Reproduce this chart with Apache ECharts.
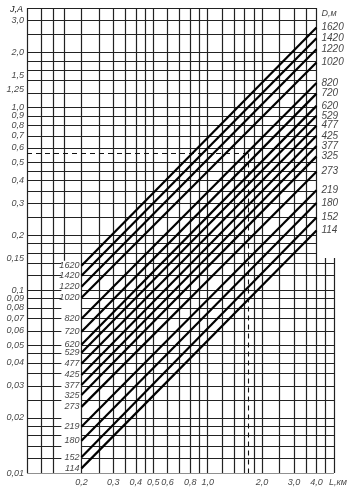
<!DOCTYPE html>
<html>
<head>
<meta charset="utf-8">
<script src="https://cdn.jsdelivr.net/npm/echarts@6/dist/echarts.min.js"></script>
<style>
html,body{margin:0;padding:0;background:#fff;}
#chart{width:347px;height:496px;}
</style>
</head>
<body>
<div id="chart"></div>
<script>
// ---- data ----
const diameters = ['1620','1420','1220','1020','820','720','620','529','477','425','377','325','273','219','180','152','114'];
// J (A) where each line starts (L = 0.2 km) and ends (L = 4.0 km)
const lineStartL = 0.2;
const lineEndL = 4.0;
const startJ = [0.136,0.120,0.1045,0.091,0.0698,0.0593,0.0503,0.0455,0.0396,0.0344,0.0303,0.0267,0.0230,0.0179,0.0150,0.0122,0.0106];
const endJ   = [2.74,2.39,2.08,1.76,1.36,1.19,1.02,0.90,0.795,0.70,0.615,0.54,0.445,0.352,0.300,0.250,0.212];

// axis ranges
const xMin = 0.1, xMax = 5.0, xUpperMax = 4.0;
const yMin = 0.01, yMax = 3.5, yLowerTop = 0.15;
// blank box behind the left D labels
const labelBoxL = 0.155, labelBoxTop = 0.145;

// tick labels
const yTickValues = [3.0,2.0,1.5,1.25,1.0,0.9,0.8,0.7,0.6,0.5,0.4,0.3,0.2,0.15,0.1,0.09,0.08,0.07,0.06,0.05,0.04,0.03,0.02,0.01];
const yTickLabels = ['3,0','2,0','1,5','1,25','1,0','0,9','0,8','0,7','0,6','0,5','0,4','0,3','0,2','0,15','0,1','0,09','0,08','0,07','0,06','0,05','0,04','0,03','0,02','0,01'];
const xTickValues = [0.2,0.3,0.4,0.5,0.6,0.8,1.0,2.0,3.0,4.0];
const xTickLabels = ['0,2','0,3','0,4','0,5','0,6','0,8','1,0','2,0','3,0','4,0'];

// grid lines
const hGridUpper = [3.5,3.0,2.5,2.0,1.8,1.6,1.4,1.2,1.0,0.9,0.8,0.7,0.6,0.5,0.45,0.4,0.35,0.3,0.25,0.2,0.18,0.16];
const hGridLower = [0.14,0.12,0.1,0.09,0.08,0.07,0.06,0.05,0.045,0.04,0.035,0.03,0.025,0.02,0.018,0.016,0.014,0.012];
const vGridFull  = [0.1,0.12,0.14,0.2,0.25,0.3,0.35,0.4,0.45,0.5,0.6,0.7,0.8,0.9,1.0,1.2,1.4,1.6,1.8,2.0,2.5,3.0,3.5,4.0];
const vGridAboveLabels = [0.16];
const vGridLower = [4.5,5.0];

// worked example (dashed)
const exampleL = 1.67;
const exampleJ = 0.56;

const FONT = "'Liberation Sans Narrow','Liberation Sans',sans-serif";

const gridSegs = [];
hGridUpper.forEach(v => gridSegs.push({coords: [[xMin, v], [xUpperMax, v]]}));
hGridLower.forEach(v => {
  gridSegs.push({coords: [[xMin, v], [labelBoxL, v]]});
  gridSegs.push({coords: [[lineStartL, v], [xMax, v]]});
});
gridSegs.push({coords: [[xMin, yMin], [xMax, yMin]]});
vGridFull.forEach(v => gridSegs.push({coords: [[v, yMin], [v, yMax]]}));
vGridAboveLabels.forEach(v => gridSegs.push({coords: [[v, labelBoxTop], [v, yMax]]}));
vGridLower.forEach(v => gridSegs.push({coords: [[v, yMin], [v, yLowerTop]]}));

const dLines = diameters.map((d, i) => ({coords: [[lineStartL, startJ[i]], [lineEndL, endJ[i]]]}));

const labelStyle = {fontFamily: FONT, fontStyle: 'italic', fontSize: 9, color: '#111'};

const chart = echarts.init(document.getElementById('chart'), null, {renderer: 'canvas'});
chart.setOption({
  backgroundColor: '#fff',
  animation: false,
  title: {text: 'J,A', left: 5, top: 0, textStyle: Object.assign({}, labelStyle, {fontWeight: 'normal'})},
  grid: {left: 27, right: 13, top: 8, bottom: 23, containLabel: false},
  xAxis: {type: 'log', min: xMin, max: xMax, show: false},
  yAxis: {type: 'log', min: yMin, max: yMax, show: false},
  series: [
    {
      type: 'lines', coordinateSystem: 'cartesian2d', silent: true,
      lineStyle: {color: '#222', width: 1.2, opacity: 1, curveness: 0},
      data: gridSegs
    },
    {
      type: 'lines', coordinateSystem: 'cartesian2d', silent: true,
      lineStyle: {color: '#111', width: 1.1, opacity: 1, type: [5, 4]},
      data: [
        {coords: [[xMin, exampleJ], [exampleL, exampleJ]]},
        {coords: [[exampleL, exampleJ], [exampleL, yMin]]}
      ]
    },
    {
      type: 'lines', coordinateSystem: 'cartesian2d', silent: true,
      lineStyle: {color: '#000', width: 2.2, opacity: 1, curveness: 0},
      data: dLines
    },
    // y tick labels
    {
      type: 'scatter', symbolSize: 0, silent: true,
      data: yTickValues.map((v, i) => [xMin, v, yTickLabels[i]]),
      label: Object.assign({show: true, position: 'left', distance: 3, formatter: p => p.value[2]}, labelStyle)
    },
    // x tick labels
    {
      type: 'scatter', symbolSize: 0, silent: true,
      data: xTickValues.map((v, i) => [v, yMin, xTickLabels[i]]),
      label: Object.assign({show: true, position: 'bottom', distance: 5, formatter: p => p.value[2]}, labelStyle)
    },
    // x axis name
    {
      type: 'scatter', symbolSize: 0, silent: true,
      data: [[xMax, yMin, 'L,км']],
      label: Object.assign({show: true, position: 'bottom', distance: 5, offset: [4, 0], formatter: p => p.value[2]}, labelStyle)
    },
    // D labels at left ends
    {
      type: 'scatter', symbolSize: 0, silent: true,
      data: diameters.map((d, i) => [lineStartL, startJ[i], d]),
      label: Object.assign({show: true, position: 'left', distance: 2, formatter: p => p.value[2]}, labelStyle)
    },
    // D labels at right ends
    {
      type: 'scatter', symbolSize: 0, silent: true,
      data: diameters.map((d, i) => [lineEndL, endJ[i], d]),
      label: Object.assign({show: true, position: 'right', distance: 5, formatter: p => p.value[2]}, labelStyle, {fontSize: 10})
    },
    // D axis name
    {
      type: 'scatter', symbolSize: 0, silent: true,
      data: [[lineEndL, yMax, 'D,м']],
      label: Object.assign({show: true, position: 'right', distance: 5, offset: [0, 5], formatter: p => p.value[2]}, labelStyle)
    }
  ]
});
</script>
</body>
</html>
